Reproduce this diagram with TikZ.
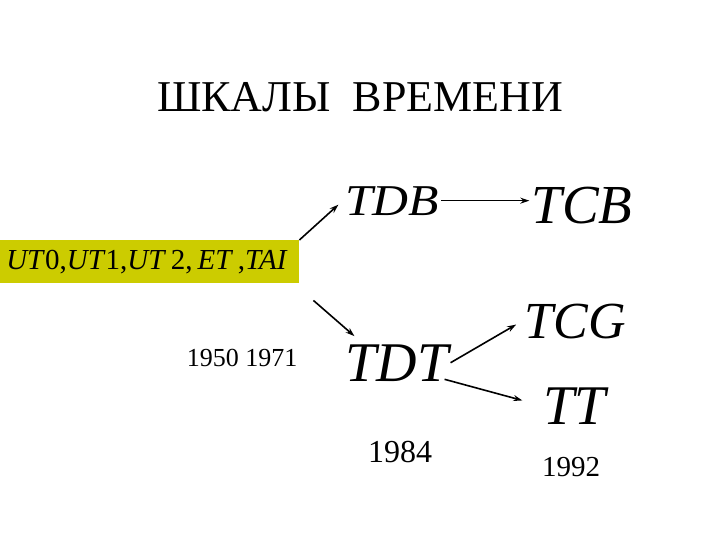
\documentclass[tikz,border=0pt]{standalone}
\usepackage{fontspec}
\setmainfont{Liberation Serif}
\usetikzlibrary{positioning,calc,arrows.meta}
\definecolor{boxyellow}{RGB}{204,204,0}

\begin{document}
\begin{tikzpicture}[x=1pt,y=-1pt,
    arr/.style={-{Stealth[length=9pt,width=6pt]}, line width=1.6pt},
    scale/.style={font=\fontsize{#1}{#1}\selectfont\itshape, inner sep=2pt, anchor=base},
    year/.style={font=\fontsize{#1}{#1}\selectfont, inner sep=2pt, anchor=base}]
    \useasboundingbox (0,0) rectangle (720,540);

    \node (title) [year=44] at (360,112) {ШКАЛЫ\ \ ВРЕМЕНИ};

    % observed scales
    \node (obs) [fill=boxyellow, minimum width=299pt, minimum height=43pt, inner sep=0pt, anchor=north west] at (0,240) {};
    \node (obslbl) [font=\fontsize{29}{29}\selectfont, anchor=base] at (147,269)
        {\textit{UT}0,\textit{UT}1,\textit{UT}\,2,\,\textit{ET}\,,\textit{TAI}};

    \node (tdb) [scale=44] at (392,215) {\scalebox{1.13}[1]{TDB}};
    \node (tcb) [scale=55] at (582,224) {TCB};
    \node (tdt) [scale=56] at (397,381) {TDT};
    \node (tcg) [scale=52] at (575,338) {TCG};
    \node (tt)  [scale=56] at (575,424) {TT};

    \node (yrA) [year=26] at (242,366) {1950 1971};
    \node (yrB) [year=32] at (400,462) {1984};
    \node (yrC) [year=29] at (571,476) {1992};

    \draw[arr, shorten >=6pt] (obs.north east) -- (tdb.west);
    \draw[arr] (tdb.east) -- (tdb.east -| tcb.west);
    \draw[arr] ([shift={(14,17)}]obs.south east) -- ([shift={(11,-6)}]tdt.north west);
    \draw[arr, shorten >=7pt] (tdt.east) -- (tcg.west);
    \draw[arr, shorten >=20pt] ([shift={(-6,-4)}]tdt.south east) -- (tt.west);
\end{tikzpicture}
\end{document}
